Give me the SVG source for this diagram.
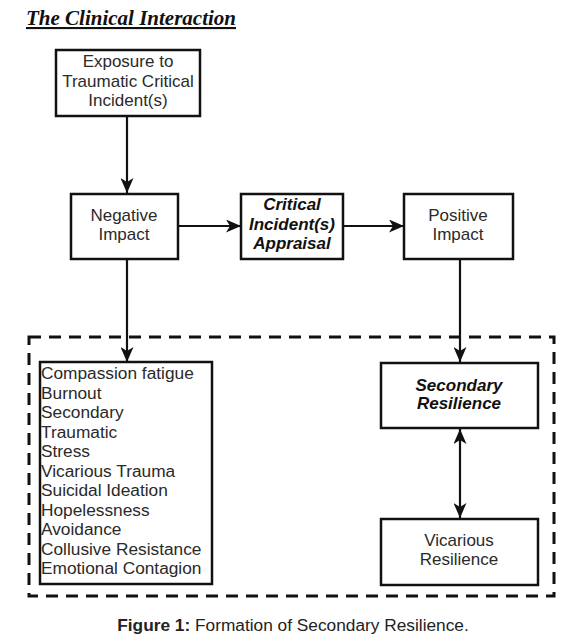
<svg xmlns="http://www.w3.org/2000/svg" width="576" height="642" viewBox="0 0 576 642">
<defs>
<marker id="ah" viewBox="0 0 15 13" refX="15" refY="6.5" markerWidth="15" markerHeight="13" markerUnits="userSpaceOnUse" orient="auto-start-reverse">
<path d="M0,0 L15,6.5 L0,13 L4,6.5 Z" fill="#111"/>
</marker>
</defs>
<style>
.box{fill:#fff;stroke:#111;stroke-width:2.5}
.t{font-family:"Liberation Sans",Arial,sans-serif;font-size:17px;fill:#2a2a2a;text-anchor:middle}
.bi{font-weight:bold;font-style:italic;fill:#111}
.lst{font-family:"Liberation Sans",Arial,sans-serif;font-size:17.3px;fill:#2a2a2a}
.c{fill:none;stroke:#111;stroke-width:2.2}
</style>
<rect width="576" height="642" fill="#fff"/>
<text x="26" y="25" font-family="Liberation Serif,'Times New Roman',serif" font-size="21" font-weight="bold" font-style="italic" text-decoration="underline" fill="#111">The Clinical Interaction</text>
<rect id="frame" x="29" y="337" width="525" height="259" fill="none" stroke="#111" stroke-width="3" stroke-dasharray="12 8"/>
<g id="connectors">
<line class="c" x1="127" y1="116" x2="127" y2="193" marker-end="url(#ah)"/>
<line class="c" x1="178" y1="226" x2="241" y2="226" marker-end="url(#ah)"/>
<line class="c" x1="343" y1="226" x2="404" y2="226" marker-end="url(#ah)"/>
<line class="c" x1="127" y1="259" x2="127" y2="362" marker-end="url(#ah)"/>
<line class="c" x1="460" y1="259" x2="460" y2="362" marker-end="url(#ah)"/>
<line class="c" x1="460" y1="429" x2="460" y2="518" marker-start="url(#ah)" marker-end="url(#ah)"/>
</g>
<g id="exposure">
<rect class="box" x="56" y="50" width="144" height="66"/>
<text class="t" x="128" y="67">Exposure to</text>
<text class="t" x="128" y="87">Traumatic Critical</text>
<text class="t" x="128" y="106">Incident(s)</text>
</g>
<g id="negative">
<rect class="box" x="71" y="194" width="107" height="65"/>
<text class="t" x="124" y="221">Negative</text>
<text class="t" x="124" y="240">Impact</text>
</g>
<g id="appraisal">
<rect class="box" x="241" y="194" width="102" height="65"/>
<text class="t bi" x="292" y="210">Critical</text>
<text class="t bi" x="292" y="230">Incident(s)</text>
<text class="t bi" x="292" y="249">Appraisal</text>
</g>
<g id="positive">
<rect class="box" x="404" y="194" width="109" height="65"/>
<text class="t" x="458" y="221">Positive</text>
<text class="t" x="458" y="240">Impact</text>
</g>
<g id="negative-list">
<rect class="box" x="40" y="362" width="172" height="222"/>
<text class="lst" x="41" y="379">Compassion fatigue</text>
<text class="lst" x="41" y="399">Burnout</text>
<text class="lst" x="41" y="418">Secondary</text>
<text class="lst" x="41" y="438">Traumatic</text>
<text class="lst" x="41" y="457">Stress</text>
<text class="lst" x="41" y="477">Vicarious Trauma</text>
<text class="lst" x="41" y="496">Suicidal Ideation</text>
<text class="lst" x="41" y="516">Hopelessness</text>
<text class="lst" x="41" y="535">Avoidance</text>
<text class="lst" x="41" y="555">Collusive Resistance</text>
<text class="lst" x="41" y="574">Emotional Contagion</text>
</g>
<g id="secondary">
<rect class="box" x="381" y="363" width="157" height="65"/>
<text class="t bi" x="459" y="391">Secondary</text>
<text class="t bi" x="459" y="409">Resilience</text>
</g>
<g id="vicarious">
<rect class="box" x="381" y="519" width="157" height="66"/>
<text class="t" x="459" y="546">Vicarious</text>
<text class="t" x="459" y="565">Resilience</text>
</g>
<text x="293" y="631" font-family="Liberation Sans,Arial,sans-serif" font-size="17.3" fill="#222" text-anchor="middle"><tspan font-weight="bold">Figure 1:</tspan> Formation of Secondary Resilience.</text>
</svg>
